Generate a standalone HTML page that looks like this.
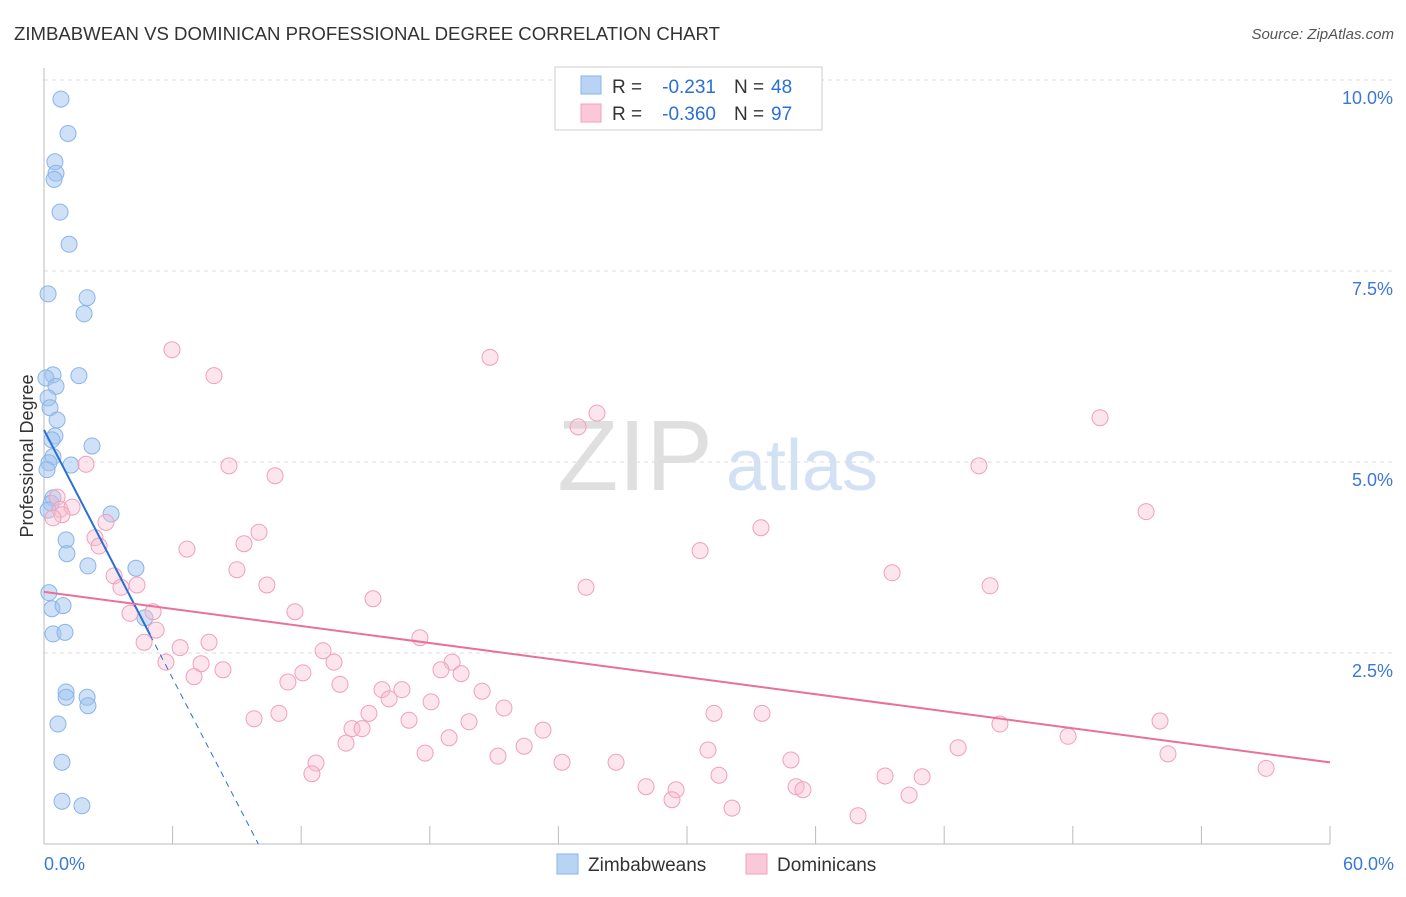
<!DOCTYPE html>
<html><head><meta charset="utf-8"><style>
body{margin:0;background:#fff;font-family:"Liberation Sans",sans-serif;}
svg text{font-family:"Liberation Sans",sans-serif;}
</style></head><body>
<svg id="chart" width="1406" height="892" xmlns="http://www.w3.org/2000/svg">
<text x="14" y="40" font-size="18" fill="#333" textLength="706" lengthAdjust="spacingAndGlyphs">ZIMBABWEAN VS DOMINICAN PROFESSIONAL DEGREE CORRELATION CHART</text>
<text x="1394" y="39" font-size="15" fill="#555" text-anchor="end" font-style="italic">Source: ZipAtlas.com</text>
<text transform="translate(33,456) rotate(-90)" font-size="18" fill="#333" text-anchor="middle">Professional Degree</text>
<g>
<text x="635" y="490" font-size="100" fill="#d8d8d8" text-anchor="middle" font-family="Liberation Serif" opacity="0.8">ZIP</text>
<text x="802" y="490" font-size="72" fill="#c8daf2" text-anchor="middle" opacity="0.8">atlas</text>
</g>
<g id="grid"></g><g id="axes"></g><g id="pts"></g><g id="lines"></g>
<g font-size="19">
<rect x="555" y="67" width="267" height="63" fill="#fff" stroke="#ccc"/>
<rect x="581" y="76" width="20" height="18" fill="#b9d3f5" stroke="#8ab4e8"/>
<rect x="581" y="104" width="20" height="18" fill="#fac8d8" stroke="#f0a0bc"/>
<text x="612" y="93" fill="#333">R =</text><text x="716" y="93" fill="#2a6fd6" text-anchor="end">-0.231</text>
<text x="734" y="93" fill="#333">N =</text><text x="771" y="93" fill="#2a6fd6">48</text>
<text x="612" y="120" fill="#333">R =</text><text x="716" y="120" fill="#2a6fd6" text-anchor="end">-0.360</text>
<text x="734" y="120" fill="#333">N =</text><text x="771" y="120" fill="#2a6fd6">97</text>
</g>
<g>
<rect x="557" y="854" width="21" height="20" fill="#b9d3f5" stroke="#8ab4e8"/>
<text x="588" y="871" font-size="19" fill="#333">Zimbabweans</text>
<rect x="746" y="854" width="21" height="20" fill="#fac8d8" stroke="#f0a0bc"/>
<text x="777" y="871" font-size="19" fill="#333">Dominicans</text>
</g>
</svg>
<script>
const yTicks=[2.5,5.0,7.5,10.0];
const yTickLabels=["2.5%","5.0%","7.5%","10.0%"];
const xTickLabels=["0.0%","60.0%"];
const zimX=[.79,1.12,.51,.56,.47,.75,1.17,.19,2.01,1.87,1.63,.42,.09,.56,.19,.28,.61,.51,.37,2.24,.42,.23,1.26,.14,.42,.33,.19,3.13,1.03,1.07,2.05,4.29,.23,.37,.89,.42,.98,4.71,1.03,1.03,2.01,2.05,.65,.84,.84,1.77];
const zimY=[9.75,9.30,8.93,8.78,8.70,8.27,7.85,7.20,7.15,6.94,6.13,6.14,6.10,5.99,5.84,5.71,5.55,5.34,5.29,5.21,5.07,4.99,4.96,4.90,4.53,4.46,4.37,4.32,3.98,3.80,3.64,3.61,3.29,3.08,3.12,2.75,2.77,2.96,1.99,1.92,1.92,1.81,1.57,1.07,.56,.50];
const domX=[5.97,20.81,7.93,25.80,24.92,49.27,8.63,1.96,10.78,43.62,.61,.75,1.31,.84,.42,2.89,51.42,33.45,10.03,2.38,2.57,9.33,6.67,30.61,9.00,3.27,39.57,3.59,4.34,10.40,25.29,44.14,15.35,5.09,4.01,11.71,5.23,4.67,7.70,6.35,17.54,13.02,5.69,7.33,13.53,19.04,7.00,8.35,12.08,18.52,19.46,11.38,13.81,15.77,16.70,16.10,20.44,18.06,21.46,10.96,9.80,15.16,17.03,19.83,31.26,33.50,44.60,52.07,14.37,14.84,23.28,14.09,18.90,22.40,47.78,42.65,30.98,12.69,17.78,21.18,34.85,52.44,24.17,26.69,12.50,31.49,39.24,40.97,57.02,28.09,29.49,35.09,35.41,29.30,40.36,32.10,37.98];
const domY=[6.47,6.37,6.13,5.64,5.46,5.58,4.95,4.97,4.82,4.95,4.54,4.38,4.41,4.31,4.27,4.21,4.35,4.14,4.08,4.01,3.90,3.93,3.86,3.84,3.59,3.51,3.55,3.36,3.39,3.39,3.36,3.38,3.21,3.04,3.02,3.04,2.80,2.64,2.64,2.57,2.70,2.53,2.38,2.36,2.38,2.38,2.19,2.28,2.24,2.28,2.23,2.12,2.09,2.02,2.02,1.90,2.00,1.86,1.78,1.71,1.64,1.71,1.62,1.60,1.71,1.71,1.57,1.61,1.51,1.51,1.49,1.32,1.39,1.28,1.41,1.26,1.23,1.06,1.19,1.15,1.10,1.18,1.07,1.07,.92,.90,.89,.88,.99,.75,.71,.75,.71,.58,.64,.47,.37];
const zimLine=[5.42,-0.542];
const domLine=[3.30,-0.0372];
const X0=44,X1=1330,Y0=844,PXY=76.4;
const sx=v=>X0+(X1-X0)*v/60, sy=v=>Y0-v*PXY;
const NS="http://www.w3.org/2000/svg";
function mk(p,t,a){const e=document.createElementNS(NS,t);for(const k in a)e.setAttribute(k,a[k]);document.getElementById(p).appendChild(e);return e;}
yTicks.forEach((v,i)=>{
 const g=mk('grid','line',{x1:X0,x2:1394,y1:sy(v),y2:sy(v),stroke:'#ddd','stroke-dasharray':'4,4'});
 
 
 const t=mk('axes','text',{x:1393,y:sy(v)+24,'font-size':18,fill:'#3a78d8','text-anchor':'end'});
 t.textContent=yTickLabels[i];
 
 
});
mk('axes','line',{x1:X0,x2:X0,y1:68,y2:Y0,stroke:'#bbb'});
mk('axes','line',{x1:X0,x2:X1,y1:Y0,y2:Y0,stroke:'#bbb'});
for(let i=0;i<=10;i++){const x=sx(i*6);mk('axes','line',{x1:x,x2:x,y1:Y0,y2:Y0-18,stroke:'#bbb'});}
[[0,'start',44],[60,'end',1394]].forEach((d,i)=>{
 const t=mk('axes','text',{x:d[2],y:870,'font-size':18,fill:'#3a78d8','text-anchor':d[1]});
 t.textContent=xTickLabels[i];
 
 
});
zimX.forEach((x,i)=>{
 const c=mk('pts','circle',{cx:sx(x),cy:sy(zimY[i]),r:8,fill:'rgba(160,195,240,0.5)',stroke:'#8ab4e8','stroke-width':1});
 
 
});
domX.forEach((x,i)=>{
 const c=mk('pts','circle',{cx:sx(x),cy:sy(domY[i]),r:8,fill:'rgba(248,190,208,0.4)',stroke:'#f0a0bc','stroke-width':1});
 
 
});
const zf=x=>zimLine[0]+zimLine[1]*x, df=x=>domLine[0]+domLine[1]*x;
let l=mk('lines','line',{x1:sx(0),y1:sy(zf(0)),x2:sx(4.95),y2:sy(zf(4.95)),stroke:'#2a6fd6','stroke-width':2});


const xz=-zimLine[0]/zimLine[1];
l=mk('lines','line',{x1:sx(4.95),y1:sy(zf(4.95)),x2:sx(xz),y2:sy(0),stroke:'#2a6fd6','stroke-width':1,'stroke-dasharray':'6,5'});


l=mk('lines','line',{x1:sx(0),y1:sy(df(0)),x2:sx(60),y2:sy(df(60)),stroke:'#e8709a','stroke-width':2});


</script>
</body></html>
